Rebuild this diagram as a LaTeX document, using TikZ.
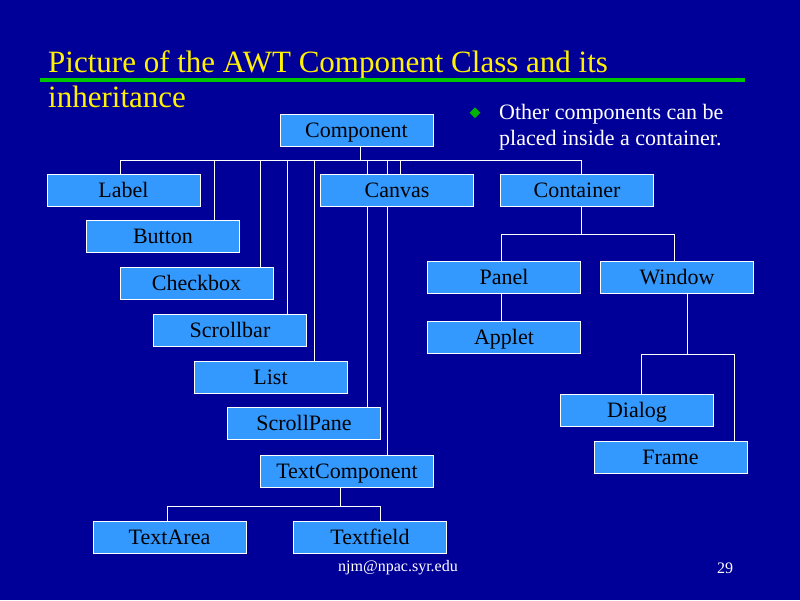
\documentclass[tikz,border=0pt]{standalone}
\usepackage{fontspec}
\setmainfont{Liberation Serif}
\usetikzlibrary{shapes.geometric,backgrounds}
\definecolor{slideblue}{RGB}{0,0,153}
\definecolor{boxblue}{RGB}{51,153,255}
\definecolor{rulegreen}{RGB}{0,200,0}
\definecolor{dotgreen}{RGB}{0,180,0}
\tikzset{
  cls/.style={draw=white, fill=boxblue, line width=0.9pt, minimum width=153pt, minimum height=32pt,
    inner sep=0pt, text height=16pt, text depth=2pt, text=black, font=\fontsize{22}{22}\selectfont},
  link/.style={draw=white, line width=0.9pt}
}

\begin{document}
\begin{tikzpicture}[x=1pt,y=-1pt]
		%%%%% SLIDE %%%%%
		\useasboundingbox (0,0) rectangle (800,600);
		
		\node[anchor=base west, text=yellow, font=\fontsize{31}{31}\selectfont, inner sep=0pt] (title1) at (48,72) {Picture of the AWT Component Class and its};
		\node[anchor=base west, text=yellow, font=\fontsize{31}{31}\selectfont, inner sep=0pt] (title2) at (48,107) {inheritance};
		\fill[rulegreen] (40,77.5) rectangle (745,82.3);
		
		\node[diamond, fill=dotgreen, minimum size=11pt, inner sep=0pt] (dot) at (475,112.7) {};
		\node[anchor=base west, text=white, font=\fontsize{22}{22}\selectfont, inner sep=0pt] (note1) at (499,119) {Other components can be};
		\node[anchor=base west, text=white, font=\fontsize{22}{22}\selectfont, inner sep=0pt] (note2) at (499,145) {placed inside a container.};
		
		%%%%% CLASSES %%%%%
		\node[cls] (comp) at (356.5,130.5) {Component};
		\node[cls] (lbl) at (123.5,190.5) {Label};
		\node[cls] (canv) at (397,190.5) {Canvas};
		\node[cls] (cont) at (577,190.5) {Container};
		\node[cls] (btn) at (163,236.5) {Button};
		\node[cls] (chk) at (196.5,283.5) {Checkbox};
		\node[cls] (scr) at (230,330.5) {Scrollbar};
		\node[cls] (lst) at (270.5,377.5) {List};
		\node[cls] (spane) at (304,423.5) {ScrollPane};
		\node[cls, minimum width=173pt] (tcomp) at (347,471.5) {TextComponent};
		\node[cls] (tarea) at (169.5,537.5) {TextArea};
		\node[cls] (tfield) at (370,537.5) {Textfield};
		
		\node[cls] (panel) at (504,277.5) {Panel};
		\node[cls] (win) at (677,277.5) {Window};
		\node[cls] (app) at (504,337.3) {Applet};
		\node[cls] (dlg) at (637,410.8) {Dialog};
		\node[cls] (frm) at (670.5,457.3) {Frame};
		
		\node[text=white, font=\fontsize{16}{16}\selectfont, inner sep=0pt] (mail) at (398,568) {njm@npac.syr.edu};
		\node[text=white, font=\fontsize{16}{16}\selectfont, inner sep=0pt] (page) at (725,568) {29};
		
		%%%%% LINKS %%%%%
		\begin{scope}[on background layer]
		\fill[slideblue] (0,0) rectangle (800,600);
		
		\coordinate (bus) at (0,160);
		\draw[link] (360.7,0 |- comp.south) -- (360.7,0 |- bus);
		\draw[link] (120,0 |- bus) -- (581,0 |- bus);
		\foreach \x/\n in {120/lbl, 214/btn, 260.7/chk, 287.3/scr, 314.3/lst, 367.3/spane, 387.3/tcomp, 400.7/canv, 581/cont}
			\draw[link] (\x,0 |- bus) -- (\x,0 |- \n.north);
		
		\coordinate (tbus) at (0,506);
		\draw[link] (340,0 |- tcomp.south) -- (340,0 |- tbus);
		\draw[link] (167.6,0 |- tbus) -- (380,0 |- tbus);
		\draw[link] (167.6,0 |- tbus) -- (167.6,0 |- tarea.north);
		\draw[link] (380,0 |- tbus) -- (380,0 |- tfield.north);
		
		\coordinate (cbus) at (0,234);
		\draw[link] (581,0 |- cont.south) -- (581,0 |- cbus);
		\draw[link] (501.3,0 |- cbus) -- (674.3,0 |- cbus);
		\draw[link] (501.3,0 |- cbus) -- (501.3,0 |- panel.north);
		\draw[link] (674.3,0 |- cbus) -- (674.3,0 |- win.north);
		\draw[link] (501.3,0 |- panel.south) -- (501.3,0 |- app.north);
		
		\coordinate (wbus) at (0,354.3);
		\draw[link] (687.3,0 |- win.south) -- (687.3,0 |- wbus);
		\draw[link] (641.3,0 |- wbus) -- (734.3,0 |- wbus);
		\draw[link] (641.3,0 |- wbus) -- (641.3,0 |- dlg.north);
		\draw[link] (734.3,0 |- wbus) -- (734.3,0 |- frm.north);
		\end{scope}
		%%%%% END %%%%%
	\end{tikzpicture}
\end{document}
